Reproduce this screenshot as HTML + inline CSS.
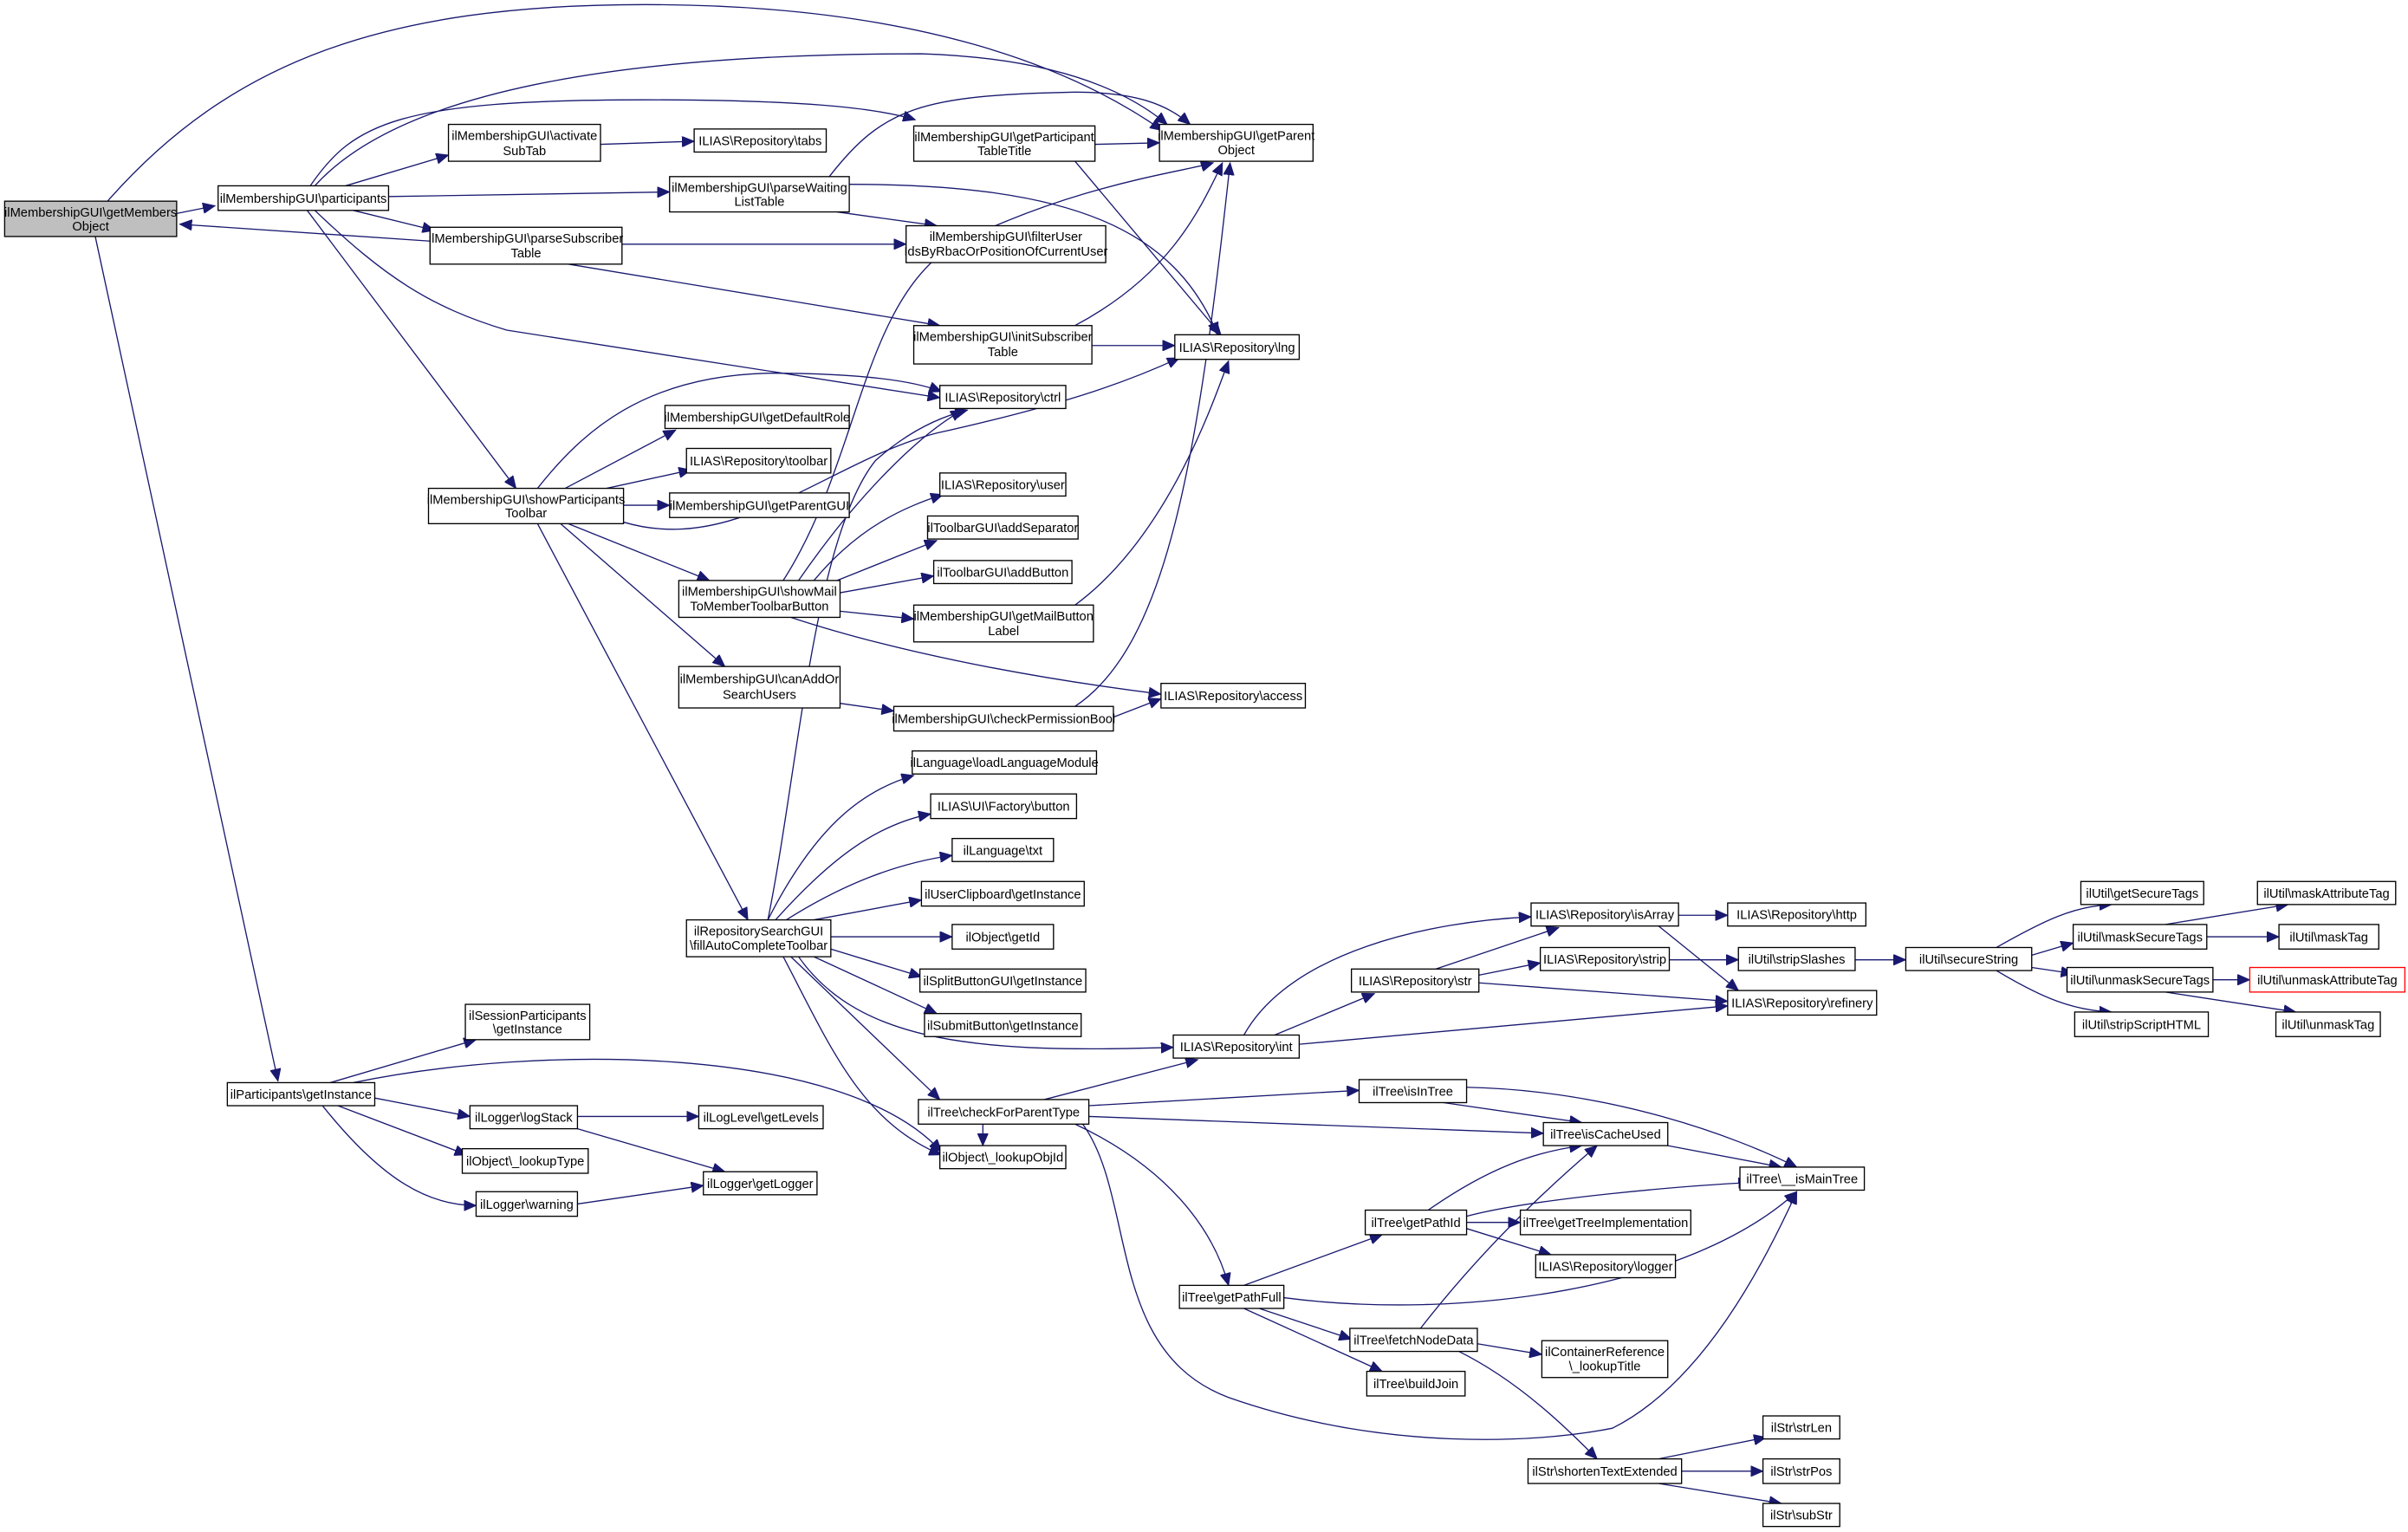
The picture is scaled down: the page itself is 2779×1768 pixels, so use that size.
<!DOCTYPE html>
<html><head><meta charset="utf-8"><style>
html,body{margin:0;padding:0;background:#fff;}
svg{display:block;}
text{font-family:"Liberation Sans",sans-serif;font-size:8.3px;fill:#000;text-anchor:middle;}
rect{fill:#fff;stroke:#000;stroke-width:0.75;}
path{fill:none;stroke:#191970;stroke-width:0.75;marker-end:url(#a);}
</style></head><body>
<svg width="2779" height="1768" viewBox="0 0 1568 997.6" xmlns="http://www.w3.org/2000/svg">
<defs><marker id="a" markerUnits="userSpaceOnUse" markerWidth="9" markerHeight="7" refX="8" refY="3.5" orient="auto"><polygon points="0,0 8,3.5 0,7" fill="#191970" stroke="#191970" stroke-width="0.5"/></marker></defs>
<rect x="0" y="0" width="1568" height="998" style="fill:#fff;stroke:none"/>
<g>
<path d="M70,131 C150,40 250,3 420,3 C600,3 700,45 757,85"/>
<path d="M115,139 L140,134"/>
<path d="M280,157 L117,146"/>
<path d="M62,154 L181,704"/>
<path d="M205,121 C260,60 400,35 600,35 C690,38 735,60 760,81"/>
<path d="M202,121 C230,80 260,65 420,65 C520,65 570,70 596,78"/>
<path d="M225,121 L292,101"/>
<path d="M253,128 L436,125"/>
<path d="M230,137 L283,150"/>
<path d="M205,137 C250,180 280,200 330,215 L612,259"/>
<path d="M200,137 L336,318"/>
<path d="M391,94 L452,92"/>
<path d="M713,94 L755,93"/>
<path d="M700,105 L795,218"/>
<path d="M540,115 C575,70 600,62 700,60 C740,60 760,68 775,81"/>
<path d="M553,120 C700,120 765,150 793,218"/>
<path d="M545,138 L610,147"/>
<path d="M405,159 L590,159"/>
<path d="M370,172 L612,212"/>
<path d="M700,212 C760,180 780,140 796,106"/>
<path d="M711,225 L765,225"/>
<path d="M350,318 C380,280 420,245 500,243 C560,243 595,248 613,255"/>
<path d="M368,318 L440,280"/>
<path d="M395,318 L450,306"/>
<path d="M406,329 L436,329"/>
<path d="M406,340 C480,362 540,300 610,282 C700,262 740,246 768,233"/>
<path d="M370,341 L462,378"/>
<path d="M365,341 L472,434"/>
<path d="M350,341 L487,599"/>
<path d="M510,378 C560,300 560,200 620,160 C700,120 770,112 790,106"/>
<path d="M520,378 C560,320 600,282 627,267"/>
<path d="M530,378 C560,342 590,330 614,322"/>
<path d="M540,380 L610,352"/>
<path d="M547,386 L608,375"/>
<path d="M547,398 L595,403"/>
<path d="M515,402 C600,430 700,445 756,452"/>
<path d="M700,394 C760,350 790,262 800,235"/>
<path d="M547,458 L582,463"/>
<path d="M725,467 L756,455"/>
<path d="M700,460 C760,420 780,300 801,106"/>
<path d="M500,599 C530,540 560,515 595,505"/>
<path d="M505,599 C540,560 570,537 606,530"/>
<path d="M512,599 C550,575 585,562 620,557"/>
<path d="M530,599 L600,586"/>
<path d="M541,610 L620,610"/>
<path d="M541,618 L600,636"/>
<path d="M530,623 L610,660"/>
<path d="M500,599 C520,500 530,350 570,300 C590,282 610,272 630,267"/>
<path d="M520,623 C560,680 640,686 764,682"/>
<path d="M515,623 L612,716"/>
<path d="M510,623 C540,680 560,730 613,752"/>
<path d="M215,705 L310,677"/>
<path d="M244,715 L306,727"/>
<path d="M220,720 L304,752"/>
<path d="M210,720 C250,770 280,785 310,785"/>
<path d="M230,705 C350,680 550,680 613,750"/>
<path d="M376,727 L455,727"/>
<path d="M376,735 L472,763"/>
<path d="M376,784 L458,772"/>
<path d="M680,716 L780,690"/>
<path d="M709,720 L885,710"/>
<path d="M709,727 L1005,738"/>
<path d="M700,732 C760,760 790,800 800,837"/>
<path d="M640,732 L640,746"/>
<path d="M705,732 C740,780 720,880 800,910 C900,945 1000,940 1050,930 C1110,900 1150,820 1170,776"/>
<path d="M810,674 C840,620 930,600 997,597"/>
<path d="M830,674 L895,647"/>
<path d="M846,680 L1125,655"/>
<path d="M935,631 L1015,604"/>
<path d="M963,635 L1003,627"/>
<path d="M963,640 L1125,652"/>
<path d="M1093,596 L1125,596"/>
<path d="M1080,603 L1132,645"/>
<path d="M1087,625 L1132,625"/>
<path d="M1208,625 L1241,625"/>
<path d="M1300,617 C1330,600 1350,590 1375,589"/>
<path d="M1323,622 L1350,614"/>
<path d="M1323,630 L1350,634"/>
<path d="M1300,632 C1330,650 1350,658 1375,659"/>
<path d="M1410,602 L1490,589"/>
<path d="M1437,610 L1484,610"/>
<path d="M1441,638 L1465,638"/>
<path d="M1410,646 L1495,659"/>
<path d="M940,718 L1030,731"/>
<path d="M955,708 C1050,710 1130,740 1170,760"/>
<path d="M1086,746 L1160,760"/>
<path d="M930,788 C970,760 1000,750 1030,746"/>
<path d="M955,792 C1000,780 1100,772 1140,770"/>
<path d="M955,796 L990,796"/>
<path d="M955,800 L1010,817"/>
<path d="M810,837 L900,804"/>
<path d="M836,845 C950,860 1100,840 1170,776"/>
<path d="M820,852 L880,872"/>
<path d="M810,852 L900,893"/>
<path d="M925,865 C960,820 1000,780 1040,746"/>
<path d="M962,875 L1004,882"/>
<path d="M950,880 C990,900 1020,930 1040,950"/>
<path d="M1080,950 L1150,936"/>
<path d="M1095,958 L1148,958"/>
<path d="M1080,966 L1160,979"/>
</g>
<g>
<rect x="3" y="131" width="112" height="23" style="fill:#bfbfbf"/><text x="59" y="141">ilMembershipGUI\getMembers</text><text x="59" y="150">Object</text>
<rect x="142" y="121" width="111" height="16"/><text x="197.5" y="132">ilMembershipGUI\participants</text>
<rect x="292" y="81" width="99" height="24"/><text x="341.5" y="91">ilMembershipGUI\activate</text><text x="341.5" y="101">SubTab</text>
<rect x="452" y="84" width="86" height="15"/><text x="495" y="94.5">ILIAS\Repository\tabs</text>
<rect x="595" y="82" width="118" height="23"/><text x="654" y="92">ilMembershipGUI\getParticipant</text><text x="654" y="101">TableTitle</text>
<rect x="755" y="81" width="100" height="24"/><text x="805" y="91">ilMembershipGUI\getParent</text><text x="805" y="100.5">Object</text>
<rect x="436" y="115" width="117" height="23"/><text x="494.5" y="125">ilMembershipGUI\parseWaiting</text><text x="494.5" y="134">ListTable</text>
<rect x="280" y="148" width="125" height="24"/><text x="342.5" y="158">ilMembershipGUI\parseSubscriber</text><text x="342.5" y="167.5">Table</text>
<rect x="590" y="147" width="130" height="24"/><text x="655" y="157">ilMembershipGUI\filterUser</text><text x="655" y="166.5">IdsByRbacOrPositionOfCurrentUser</text>
<rect x="595" y="212" width="116" height="25"/><text x="653" y="222">ilMembershipGUI\initSubscriber</text><text x="653" y="232">Table</text>
<rect x="765" y="218" width="81" height="16"/><text x="805.5" y="229">ILIAS\Repository\lng</text>
<rect x="612" y="251" width="82" height="15"/><text x="653" y="261.5">ILIAS\Repository\ctrl</text>
<rect x="433" y="264" width="120" height="15"/><text x="493" y="274.5">ilMembershipGUI\getDefaultRole</text>
<rect x="447" y="292" width="94" height="16"/><text x="494" y="303">ILIAS\Repository\toolbar</text>
<rect x="279" y="318" width="127" height="23"/><text x="342.5" y="328">ilMembershipGUI\showParticipants</text><text x="342.5" y="337">Toolbar</text>
<rect x="436" y="321" width="117" height="16"/><text x="494.5" y="332">ilMembershipGUI\getParentGUI</text>
<rect x="612" y="308" width="82" height="15"/><text x="653" y="318.5">ILIAS\Repository\user</text>
<rect x="604" y="336" width="98" height="15"/><text x="653" y="346.5">ilToolbarGUI\addSeparator</text>
<rect x="608" y="365" width="90" height="15"/><text x="653" y="375.5">ilToolbarGUI\addButton</text>
<rect x="442" y="378" width="105" height="24"/><text x="494.5" y="388">ilMembershipGUI\showMail</text><text x="494.5" y="397.5">ToMemberToolbarButton</text>
<rect x="595" y="394" width="117" height="24"/><text x="653.5" y="404">ilMembershipGUI\getMailButton</text><text x="653.5" y="413.5">Label</text>
<rect x="442" y="434" width="105" height="27"/><text x="494.5" y="445">ilMembershipGUI\canAddOr</text><text x="494.5" y="455">SearchUsers</text>
<rect x="582" y="460" width="143" height="16"/><text x="653.5" y="471">ilMembershipGUI\checkPermissionBool</text>
<rect x="756" y="445" width="94" height="16"/><text x="803" y="456">ILIAS\Repository\access</text>
<rect x="594" y="489" width="120" height="15"/><text x="654" y="499.5">ilLanguage\loadLanguageModule</text>
<rect x="606" y="517" width="95" height="16"/><text x="653.5" y="528">ILIAS\UI\Factory\button</text>
<rect x="620" y="546" width="66" height="15"/><text x="653" y="556.5">ilLanguage\txt</text>
<rect x="600" y="574" width="106" height="16"/><text x="653" y="585">ilUserClipboard\getInstance</text>
<rect x="620" y="602" width="66" height="16"/><text x="653" y="613">ilObject\getId</text>
<rect x="599" y="631" width="108" height="15"/><text x="653" y="641.5">ilSplitButtonGUI\getInstance</text>
<rect x="602" y="660" width="102" height="15"/><text x="653" y="670.5">ilSubmitButton\getInstance</text>
<rect x="447" y="599" width="94" height="24"/><text x="494" y="609">ilRepositorySearchGUI</text><text x="494" y="618.5">\fillAutoCompleteToolbar</text>
<rect x="303" y="654" width="81" height="23"/><text x="343.5" y="664">ilSessionParticipants</text><text x="343.5" y="673">\getInstance</text>
<rect x="148" y="705" width="96" height="15"/><text x="196" y="715.5">ilParticipants\getInstance</text>
<rect x="306" y="720" width="70" height="15"/><text x="341" y="730.5">ilLogger\logStack</text>
<rect x="455" y="720" width="81" height="15"/><text x="495.5" y="730.5">ilLogLevel\getLevels</text>
<rect x="301" y="748" width="82" height="16"/><text x="342" y="759">ilObject\_lookupType</text>
<rect x="310" y="776" width="66" height="16"/><text x="343" y="787">ilLogger\warning</text>
<rect x="458" y="763" width="74" height="15"/><text x="495" y="773.5">ilLogger\getLogger</text>
<rect x="612" y="746" width="82" height="15"/><text x="653" y="756.5">ilObject\_lookupObjId</text>
<rect x="598" y="716" width="111" height="16"/><text x="653.5" y="727">ilTree\checkForParentType</text>
<rect x="764" y="674" width="82" height="15"/><text x="805" y="684.5">ILIAS\Repository\int</text>
<rect x="880" y="631" width="83" height="15"/><text x="921.5" y="641.5">ILIAS\Repository\str</text>
<rect x="997" y="588" width="96" height="15"/><text x="1045" y="598.5">ILIAS\Repository\isArray</text>
<rect x="1125" y="588" width="90" height="15"/><text x="1170" y="598.5">ILIAS\Repository\http</text>
<rect x="1003" y="617" width="84" height="15"/><text x="1045" y="627.5">ILIAS\Repository\strip</text>
<rect x="1132" y="617" width="76" height="15"/><text x="1170" y="627.5">ilUtil\stripSlashes</text>
<rect x="1125" y="645" width="97" height="16"/><text x="1173.5" y="656">ILIAS\Repository\refinery</text>
<rect x="1241" y="617" width="82" height="15"/><text x="1282" y="627.5">ilUtil\secureString</text>
<rect x="1355" y="574" width="80" height="15"/><text x="1395" y="584.5">ilUtil\getSecureTags</text>
<rect x="1350" y="602" width="87" height="16"/><text x="1393.5" y="613">ilUtil\maskSecureTags</text>
<rect x="1346" y="630" width="95" height="16"/><text x="1393.5" y="641">ilUtil\unmaskSecureTags</text>
<rect x="1351" y="659" width="87" height="16"/><text x="1394.5" y="670">ilUtil\stripScriptHTML</text>
<rect x="1470" y="574" width="90" height="15"/><text x="1515" y="584.5">ilUtil\maskAttributeTag</text>
<rect x="1484" y="602" width="65" height="16"/><text x="1516.5" y="613">ilUtil\maskTag</text>
<rect x="1465" y="630" width="101" height="16" style="stroke:#ff0000"/><text x="1515.5" y="641">ilUtil\unmaskAttributeTag</text>
<rect x="1482" y="659" width="68" height="16"/><text x="1516" y="670">ilUtil\unmaskTag</text>
<rect x="885" y="703" width="70" height="15"/><text x="920" y="713.5">ilTree\isInTree</text>
<rect x="1005" y="731" width="81" height="15"/><text x="1045.5" y="741.5">ilTree\isCacheUsed</text>
<rect x="1133" y="760" width="81" height="15"/><text x="1173.5" y="770.5">ilTree\__isMainTree</text>
<rect x="889" y="788" width="66" height="16"/><text x="922" y="799">ilTree\getPathId</text>
<rect x="990" y="788" width="111" height="16"/><text x="1045.5" y="799">ilTree\getTreeImplementation</text>
<rect x="1000" y="817" width="91" height="15"/><text x="1045.5" y="827.5">ILIAS\Repository\logger</text>
<rect x="768" y="837" width="68" height="15"/><text x="802" y="847.5">ilTree\getPathFull</text>
<rect x="879" y="865" width="83" height="15"/><text x="920.5" y="875.5">ilTree\fetchNodeData</text>
<rect x="1004" y="873" width="82" height="24"/><text x="1045" y="883">ilContainerReference</text><text x="1045" y="892.5">\_lookupTitle</text>
<rect x="890" y="893" width="64" height="16"/><text x="922" y="904">ilTree\buildJoin</text>
<rect x="995" y="950" width="100" height="16"/><text x="1045" y="961">ilStr\shortenTextExtended</text>
<rect x="1148" y="922" width="50" height="15"/><text x="1173" y="932.5">ilStr\strLen</text>
<rect x="1148" y="950" width="50" height="16"/><text x="1173" y="961">ilStr\strPos</text>
<rect x="1148" y="979" width="50" height="15"/><text x="1173" y="989.5">ilStr\subStr</text>
</g>
</svg>
</body></html>
